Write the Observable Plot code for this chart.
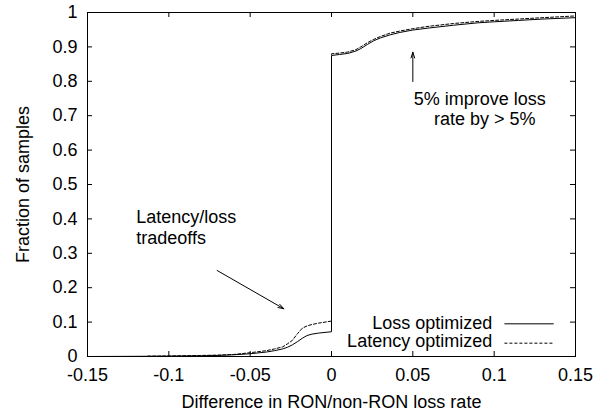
<!DOCTYPE html>
<html><head><meta charset="utf-8">
<script src="https://cdn.jsdelivr.net/npm/d3@7"></script>
<script src="https://cdn.jsdelivr.net/npm/@observablehq/plot@0.6"></script>
<style>body{margin:0;background:#fff} svg{display:block}</style>
</head><body><div id="chart"></div>
<script>
// Series: Loss optimized (solid)
const lossX = [-0.15, -0.12, -0.1, -0.08, -0.07, -0.06, -0.05, -0.04, -0.035, -0.03, -0.027, -0.024, -0.021, -0.018, -0.015, -0.012, -0.008, -0.004, 0, 0, 0.005, 0.01, 0.015, 0.018, 0.022, 0.026, 0.03, 0.036, 0.042, 0.05, 0.06, 0.075, 0.09, 0.1, 0.115, 0.13, 0.15];
const lossY = [0, 0.0005, 0.001, 0.002, 0.003, 0.005, 0.008, 0.013, 0.017, 0.022, 0.027, 0.034, 0.043, 0.053, 0.061, 0.065, 0.068, 0.07, 0.072, 0.875, 0.878, 0.881, 0.888, 0.895, 0.907, 0.918, 0.926, 0.935, 0.942, 0.949, 0.955, 0.963, 0.97, 0.973, 0.977, 0.981, 0.985];
// Series: Latency optimized (dashed)
const latX = [-0.113, -0.1, -0.08, -0.07, -0.06, -0.05, -0.04, -0.035, -0.03, -0.027, -0.024, -0.021, -0.018, -0.015, -0.012, -0.008, -0.004, 0, 0, 0.005, 0.01, 0.015, 0.018, 0.022, 0.026, 0.03, 0.036, 0.042, 0.05, 0.06, 0.075, 0.09, 0.1, 0.115, 0.13, 0.15];
const latY = [0.001, 0.0015, 0.003, 0.004, 0.006, 0.011, 0.017, 0.022, 0.028, 0.037, 0.047, 0.066, 0.082, 0.089, 0.093, 0.097, 0.1, 0.103, 0.88, 0.882, 0.885, 0.892, 0.9, 0.912, 0.922, 0.93, 0.94, 0.946, 0.953, 0.96, 0.968, 0.974, 0.977, 0.981, 0.985, 0.99];

const xTicks = [-0.15, -0.1, -0.05, 0, 0.05, 0.1, 0.15];
const yTicks = [0, 0.1, 0.2, 0.3, 0.4, 0.5, 0.6, 0.7, 0.8, 0.9, 1];
const seriesNames = ["Loss optimized", "Latency optimized"];
const xTitle = "Difference in RON/non-RON loss rate";
const yTitle = "Fraction of samples";
const note1 = "Latency/loss\ntradeoffs";
const note2 = "5% improve loss\n\u00a0\u00a0rate by > 5%";

const loss = lossX.map((x, i) => ({x, y: lossY[i]}));
const lat = latX.map((x, i) => ({x, y: latY[i]}));

const W = 601, H = 418, ML = 87, MR = 26, MT = 12, MB = 62;
const PW = W - ML - MR, PH = H - MT - MB, TK = 5;
const font = "'Liberation Sans', Arial, Helvetica, sans-serif";

const chart = Plot.plot({
  width: W, height: H,
  marginLeft: ML, marginRight: MR, marginTop: MT, marginBottom: MB,
  style: {fontFamily: font, fontSize: "18px", background: "#fff", color: "#000"},
  x: {domain: [-0.15, 0.15]},
  y: {domain: [0, 1]},
  marks: [
    Plot.axisX(xTicks, {tickSize: 0, tickPadding: 12, tickFormat: d => String(d), label: null, fontSize: 18}),
    Plot.axisY(yTicks, {tickSize: 0, tickPadding: 10, tickFormat: d => String(d), label: null, fontSize: 18}),
    Plot.tickY(yTicks, {y: d => d, stroke: "black", insetRight: PW - TK}),
    Plot.tickY(yTicks, {y: d => d, stroke: "black", insetLeft: PW - TK}),
    Plot.tickX(xTicks, {x: d => d, stroke: "black", insetTop: PH - TK}),
    Plot.tickX(xTicks, {x: d => d, stroke: "black", insetBottom: PH - TK}),
    Plot.line(loss, {x: "x", y: "y", stroke: "black", strokeWidth: 1}),
    Plot.line(lat, {x: "x", y: "y", stroke: "black", strokeWidth: 1, strokeDasharray: "3,2"}),
    // annotations
    Plot.text([note1], {x: -0.12, y: 0.376, text: d => d, textAnchor: "start", lineAnchor: "middle", lineHeight: 1.13, fontSize: 18}),
    Plot.arrow([0], {x1: -0.0703, y1: 0.25, x2: -0.0293, y2: 0.1387, stroke: "black", strokeWidth: 1, headLength: 9, headAngle: 35}),
    Plot.arrow([0], {x1: 0.05, y1: 0.7994, x2: 0.05, y2: 0.8846, stroke: "black", strokeWidth: 1, headLength: 9, headAngle: 35}),
    Plot.text([note2], {x: 0.0911, y: 0.72, text: d => d, textAnchor: "middle", lineAnchor: "middle", lineHeight: 1.13, fontSize: 18}),
    // legend
    Plot.text([seriesNames[0]], {x: 0.0988, y: 0.0974, text: d => d, textAnchor: "end", fontSize: 18}),
    Plot.text([seriesNames[1]], {x: 0.0988, y: 0.0439, text: d => d, textAnchor: "end", fontSize: 18}),
    Plot.link([0], {x1: 0.1063, x2: 0.1366, y1: 0.095, y2: 0.095, stroke: "black", strokeWidth: 1}),
    Plot.link([0], {x1: 0.1063, x2: 0.1366, y1: 0.0387, y2: 0.0387, stroke: "black", strokeWidth: 1, strokeDasharray: "3,2"}),
    // axis titles
    Plot.text([xTitle], {frameAnchor: "bottom", dy: 46, lineAnchor: "middle", textAnchor: "middle", text: d => d, fontSize: 18}),
    Plot.text([yTitle], {frameAnchor: "left", dx: -64.5, rotate: -90, textAnchor: "middle", lineAnchor: "middle", text: d => d, fontSize: 18}),
    Plot.frame({stroke: "black", strokeWidth: 1})
  ]
});
document.getElementById("chart").appendChild(chart);
</script>
</body></html>
